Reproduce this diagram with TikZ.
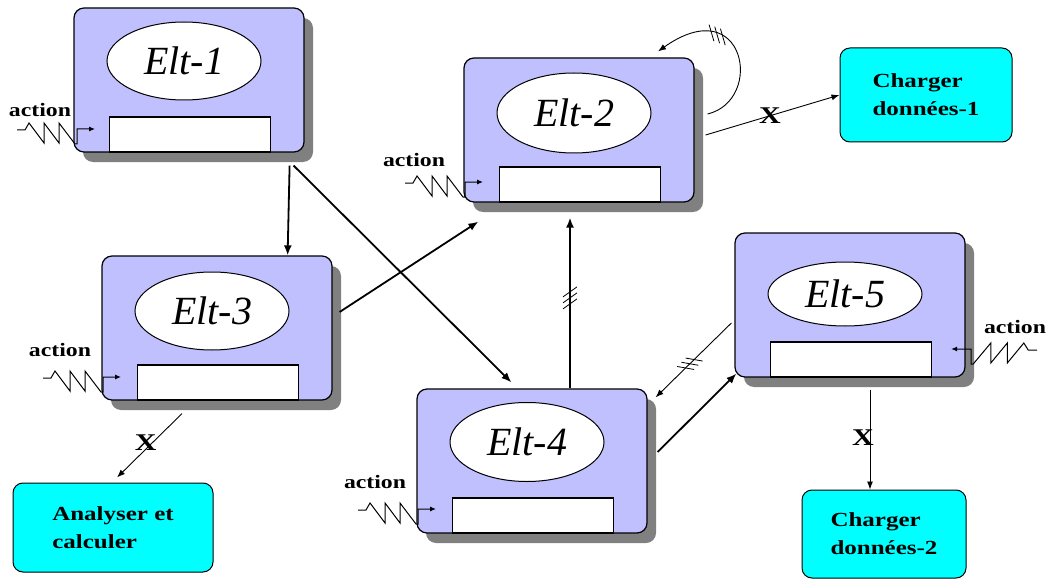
\documentclass[tikz,border=0pt]{standalone}
\usepackage{fontspec}
\newfontfamily\lblfont[FakeStretch=1.25]{Liberation Serif}
\newfontfamily\evtfont{Liberation Serif}
\usepackage{tikz}
\usetikzlibrary{arrows.meta,calc,shapes.geometric,shadows,decorations.markings}

\definecolor{evtblue}{RGB}{192,192,255}
\definecolor{taskcyan}{RGB}{0,255,255}

\tikzset{
  pics/actionsig/.style={code={
    \draw[line width=1pt,-{Latex[length=6pt,width=5pt]}]
      (0,0) -- (8,0) -- (12,-7) -- (27,13) -- (27,-7) -- (42,13) -- (42,-7)
      -- (58,14) -- (60,14) -- (60,-1) -- (78,-1);
  }},
  hatch/.style={postaction={decorate,decoration={markings,mark=at position #1 with {
    \foreach \d in {-6,0,6} \draw[-,line width=0.8pt] (\d-5,-7) -- (\d+5,7);}}}}
}

\begin{document}
\begin{tikzpicture}[x=1pt,y=-1pt,>={Latex[length=10pt,width=8pt]},
  evt/.style={draw,line width=1.2pt,rounded corners=10pt,fill=evtblue,
    minimum width=230pt,minimum height=144pt,inner sep=0pt,
    drop shadow={shadow xshift=9pt,shadow yshift=-10pt,fill=black!50,opacity=1}},
  evtname/.style={draw,ellipse,line width=1pt,fill=white,minimum width=154pt,inner sep=0pt,
    font=\evtfont\itshape\fontsize{40}{40}\selectfont},
  slot/.style={draw,line width=1.2pt,fill=white,minimum width=161pt,minimum height=35pt,inner sep=0pt},
  task/.style={draw,line width=1pt,rounded corners=10pt,fill=taskcyan,align=left,
    font=\lblfont\bfseries\fontsize{20}{28}\selectfont},
  actlbl/.style={font=\lblfont\bfseries\fontsize{19}{19}\selectfont},
  xmark/.style={font=\lblfont\bfseries\fontsize{24}{24}\selectfont,inner sep=0pt},
  trans/.style={line width=1.8pt,->},
  flow/.style={line width=0.9pt,-{Latex[length=8pt,width=6pt]}}]

  \useasboundingbox (0,0) rectangle (1052,583);

  % the five elements
  \foreach \n/\x/\y/\oy/\eh in {1/189/80/-19/78, 2/579/130/-17/80, 3/217/328/-17/78,
                                4/532/461/-19/79, 5/850/305/-11/64} {
    \node[evt] (e\n) at (\x,\y) {};
    \node[evtname,minimum height=\eh pt] (n\n) at ($(e\n)+(-5,\oy)$) {Elt-\n};
    \node[slot] (s\n) at ($(e\n)+(1,54.5)$) {};
  }

  % tasks
  \node[task,minimum width=172pt,minimum height=94pt] (c1) at (926,95) {Charger\\données-1};
  \node[task,minimum width=164pt,minimum height=88pt] (c2) at (884,534) {Charger\\données-2};
  \node[task,minimum width=200pt,minimum height=89pt] (a1) at (113,527.5) {Analyser et\\calculer};

  % actions
  \node[actlbl] (t1) at (40,110) {action};
  \pic at (17,130) {actionsig};
  \node[actlbl] (t2) at (414,160) {action};
  \pic at (405,183) {actionsig};
  \node[actlbl] (t3) at (60,350) {action};
  \pic at (43,378) {actionsig};
  \node[actlbl] (t4) at (375,482) {action};
  \pic at (358,510) {actionsig};
  \node[actlbl] (t5) at (1015,327) {action};
  \pic[xscale=-1.1] at (1037,350) {actionsig};

  % transitions
  \draw[trans] ($(e1.south east)+(-15,13)$) -- ($(e3.north east)+(-45,0)$);
  \draw[trans] ($(e1.south east)+(-11,13)$) -- ($(e4.north west)+(95,-6)$);
  \draw[trans] ($(e3.east)+(7,-16)$) -- ($(e2.south west)+(15,19)$);
  \draw[trans,hatch=0.53] ($(e4.north)+(38,0)$) -- ($(e2.south)+(-9,15)$);
  \draw[trans] ($(e4.east)+(10,-9)$) -- ($(e5.south west)+(2,-4)$);
  \draw[flow,hatch=0.55] ($(e5.west)+(-3,18)$) -- ($(e4.north east)+(8,9)$);
  \draw[flow,hatch=0.62] ($(e2.east)+(13,-16)$) .. controls (765,100) and (745,-10) .. ($(e2.north)+(79,-6)$);
  \draw[flow] ($(e2.east)+(11,5)$) -- node[xmark,pos=0.48] {X} (c1.west);
  \draw[flow] ($(e5.south)+(20,12)$) -- node[xmark,pos=0.48,xshift=-7pt] {X} ($(c2.north)+(-14,0)$);
  \draw[flow] ($(e3.south)+(-35,13)$) -- node[xmark,pos=0.45,xshift=-7pt] {X} ($(a1.north)+(4,-5)$);
\end{tikzpicture}
\end{document}
